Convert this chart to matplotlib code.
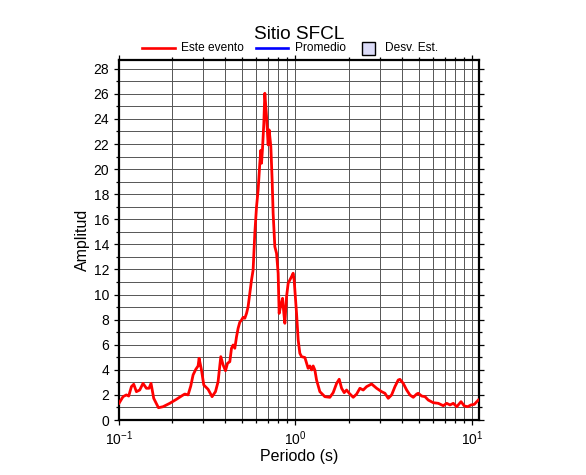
import numpy as np
import matplotlib
matplotlib.use('Agg')
import matplotlib.pyplot as plt
from matplotlib.lines import Line2D
from matplotlib.patches import Rectangle
from matplotlib.ticker import LogLocator, MultipleLocator, NullFormatter

plt.rcParams['font.family'] = ['Liberation Sans', 'DejaVu Sans']
plt.rcParams['mathtext.fontset'] = 'custom'
plt.rcParams['mathtext.rm'] = 'Liberation Sans'
plt.rcParams['mathtext.it'] = 'Liberation Sans:italic'

# spectral ratio
period = [0.1, 0.1054, 0.1101, 0.1135, 0.1176, 0.1212, 0.1255, 0.131, 0.1368, 0.143,
          0.148, 0.1519, 0.1573, 0.1673, 0.1776, 0.1939, 0.2116, 0.2259, 0.2359, 0.2463,
          0.2551, 0.2629, 0.2724, 0.2807, 0.2844, 0.2934, 0.3023, 0.3197, 0.3369, 0.3522,
          0.3643, 0.3775, 0.389, 0.4013, 0.412, 0.4246, 0.4341, 0.4433, 0.4533, 0.4635,
          0.4732, 0.4838, 0.4948, 0.5052, 0.5164, 0.5281, 0.5392, 0.5512, 0.5636, 0.5755,
          0.5885, 0.6017, 0.6144, 0.6282, 0.6364, 0.6423, 0.6508, 0.6619, 0.6706, 0.6857,
          0.7002, 0.7093, 0.7253, 0.7376, 0.7473, 0.7641, 0.7813, 0.7979, 0.8083, 0.8233,
          0.8451, 0.8596, 0.8709, 0.8904, 0.9093, 0.9296, 0.9504, 0.9703, 0.9831, 1.0144,
          1.036, 1.059, 1.083, 1.131, 1.18, 1.207, 1.234, 1.26, 1.288, 1.317,
          1.375, 1.468, 1.567, 1.636, 1.711, 1.77, 1.826, 1.889, 1.949, 2.017,
          2.125, 2.222, 2.319, 2.421, 2.531, 2.702, 2.884, 3.078, 3.214, 3.356,
          3.508, 3.663, 3.824, 3.91, 4.082, 4.268, 4.457, 4.653, 4.864, 4.966,
          5.192, 5.42, 5.658, 6.04, 6.448, 6.884, 7.197, 7.514, 7.845, 8.202,
          8.676, 9.057, 9.467, 9.883, 10.32, 10.87]
amplitude = [1.33, 1.86, 2.0, 1.91, 2.66, 2.85, 2.26, 2.39, 2.92, 2.53,
             2.53, 2.92, 1.73, 0.98, 1.06, 1.33, 1.65, 1.91, 2.07, 2.0,
             2.71, 3.59, 4.04, 4.31, 4.92, 3.99, 2.79, 2.45, 1.86, 2.26,
             3.05, 5.05, 4.39, 3.93, 4.52, 4.65, 5.72, 5.98, 5.72, 6.64,
             7.31, 7.8, 7.97, 8.19, 8.11, 8.5, 9.04, 10.1, 11.16, 11.96,
             14.9, 17.0, 18.34, 20.47, 21.5, 20.47, 21.67, 23.66, 26.05, 24.19,
             21.93, 23.13, 21.8, 19.14, 16.48, 13.82, 13.29, 11.7, 8.5, 9.04,
             9.7, 8.5, 7.71, 9.83, 10.9, 11.16, 11.43, 11.7, 11.16, 8.5,
             6.38, 5.32, 5.05, 4.98, 4.12, 4.31, 3.99, 4.31, 3.99, 3.19,
             2.26, 1.86, 1.81, 2.18, 2.92, 3.25, 2.53, 2.18, 2.39, 2.13,
             1.81, 2.07, 2.53, 2.39, 2.66, 2.87, 2.53, 2.26, 2.13, 1.73,
             2.0, 2.66, 3.19, 3.24, 2.92, 2.39, 1.99, 1.81, 2.07, 2.13,
             1.91, 1.86, 1.59, 1.38, 1.33, 1.14, 1.33, 1.2, 1.33, 1.06,
             1.46, 1.12, 1.06, 1.2, 1.25, 1.59]

W, H = 586, 475


def fx(px):
    return px / W


def fy(py):
    return 1 - py / H


fig = plt.figure(figsize=(W / 100, H / 100), dpi=100)
ax = fig.add_axes([fx(119), fy(420), 360 / W, 360 / H])

ax.plot(period, amplitude, color='#ff0000', lw=2.0, zorder=3)

ax.set_xscale('log')
ax.set_xlim(0.1, 10.97)
ax.set_ylim(0, 28.7)
ax.xaxis.set_major_locator(LogLocator(base=10))
ax.xaxis.set_minor_locator(LogLocator(base=10, subs=np.arange(2, 10)))
ax.xaxis.set_minor_formatter(NullFormatter())
ax.yaxis.set_major_locator(MultipleLocator(2))
ax.yaxis.set_minor_locator(MultipleLocator(1))

ax.grid(which='both', color='#555555', lw=0.7)
ax.set_axisbelow(True)
ax.tick_params(which='both', direction='out', top=True, right=True, width=0.9,
               labelsize=10, colors='black')
ax.tick_params(which='major', length=3.6)
ax.tick_params(which='minor', length=2.2)
for s in ax.spines.values():
    s.set_linewidth(1.6)

fig.text(fx(299), fy(39), 'Sitio SFCL', ha='center', va='baseline', fontsize=13.7)
fig.text(fx(299), fy(457), 'Periodo (s)', ha='center', va='center', fontsize=11.5)
fig.text(fx(82), fy(240), 'Amplitud', ha='center', va='center', rotation=90, fontsize=11.5)

# legend above the frame
ly = 48
fig.add_artist(Line2D([fx(142), fx(175)], [fy(ly), fy(ly)], color='#ff0000', lw=1.9))
fig.text(fx(181), fy(ly), 'Este evento', ha='left', va='center', fontsize=8.6)
fig.add_artist(Line2D([fx(256), fx(288)], [fy(ly), fy(ly)], color='#0000ff', lw=1.9))
fig.text(fx(295), fy(ly), 'Promedio', ha='left', va='center', fontsize=8.6)
fig.add_artist(Rectangle((fx(362), fy(55)), 13 / W, 13 / H, transform=fig.transFigure,
                         facecolor='#dcdcf8', edgecolor='black', lw=1))
fig.text(fx(385), fy(ly), 'Desv. Est.', ha='left', va='center', fontsize=8.6)

fig.savefig('out.png', dpi=100)
